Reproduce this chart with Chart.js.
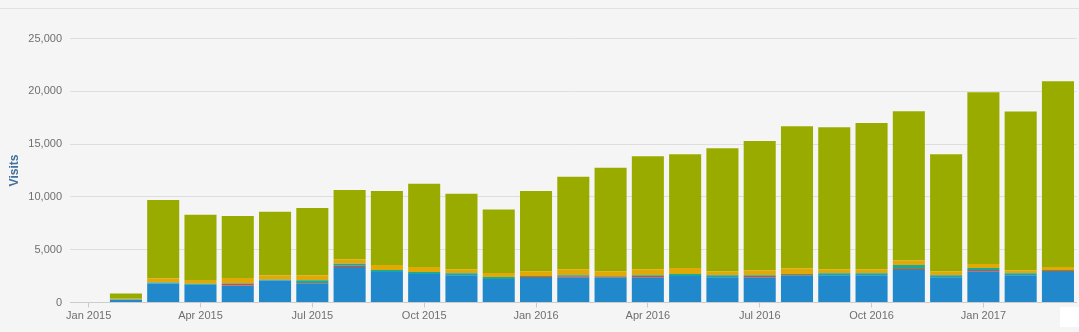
<!DOCTYPE html>
<html>
<head>
<meta charset="utf-8">
<script src="https://cdn.jsdelivr.net/npm/chart.js@4.4.1/dist/chart.umd.min.js"></script>
<style>
  html, body { margin: 0; padding: 0; background: #f5f5f5; }
  #wrap { position: relative; width: 1079px; height: 332px; overflow: hidden; }
  #topline { position: absolute; left: 0; top: 8px; width: 1079px; height: 1px; background: #e0e0e0; }
  #corner { position: absolute; left: 1060px; top: 307px; width: 19px; height: 20px; background: #ffffff; }
  canvas { position: absolute; left: 0; top: 0; }
</style>
</head>
<body>
<div id="wrap">
  <div id="topline"></div>
  <canvas id="c" width="1079" height="332"></canvas>
  <div id="corner"></div>
</div>
<script>
const categories = ['Jan 2015','Feb 2015','Mar 2015','Apr 2015','May 2015','Jun 2015','Jul 2015','Aug 2015','Sep 2015','Oct 2015','Nov 2015','Dec 2015',
  'Jan 2016','Feb 2016','Mar 2016','Apr 2016','May 2016','Jun 2016','Jul 2016','Aug 2016','Sep 2016','Oct 2016','Nov 2016','Dec 2016',
  'Jan 2017','Feb 2017','Mar 2017'];
const blueValues   = [null, 250, 1800, 1680, 1620, 2080, 1770, 3350, 2880, 2690, 2590, 2220, 2310, 2400, 2310, 2400, 2500, 2400, 2400, 2500, 2590, 2590, 3070, 2400, 2970, 2590, 2880];
const redValues    = [null, 0, 0, 0, 150, 0, 80, 120, 0, 0, 0, 0, 100, 90, 90, 100, 0, 0, 120, 90, 0, 0, 100, 0, 100, 0, 100];
const tealValues   = [null, 30, 100, 100, 60, 80, 250, 190, 190, 190, 190, 190, 90, 90, 90, 90, 190, 190, 60, 100, 190, 190, 380, 190, 190, 190, 90];
const orangeValues = [null, 80, 400, 340, 480, 430, 490, 440, 470, 470, 380, 380, 470, 580, 480, 570, 570, 380, 480, 565, 380, 380, 460, 380, 380, 280, 280];
const oliveValues  = [null, 490, 7400, 6180, 5890, 6010, 6360, 6560, 7010, 7900, 7140, 6010, 7600, 8740, 9780, 10690, 10790, 11630, 12240, 13445, 13440, 13840, 14090, 11080, 16270, 15030, 17600];
const yTicks = [0, 5000, 10000, 15000, 20000, 25000];
const yTitle = 'Visits';

const FONT = '"Liberation Sans", Arial, Helvetica, sans-serif';
function ds(data, color) {
  return { data: data, backgroundColor: color, borderWidth: 0, barPercentage: 0.86, categoryPercentage: 1.0 };
}

new Chart(document.getElementById('c'), {
  type: 'bar',
  data: {
    labels: categories,
    datasets: [
      ds(blueValues, '#2288cc'),
      ds(redValues, '#de4a2c'),
      ds(tealValues, '#1ca89a'),
      ds(orangeValues, '#e1a906'),
      ds(oliveValues, '#9aab00')
    ]
  },
  options: {
    responsive: false,
    devicePixelRatio: 1,
    animation: false,
    layout: { padding: { top: 38.5, right: 2.4, left: 0, bottom: 0 } },
    plugins: { legend: { display: false }, tooltip: { enabled: false } },
    scales: {
      x: {
        stacked: true,
        offset: true,
        afterFit: function (s) { s.height = 29.5; },
        grid: {
          offset: false,
          drawOnChartArea: false,
          drawTicks: true,
          tickLength: 5,
          tickColor: function (ctx) { return ctx.index % 3 === 0 ? '#b9cde4' : 'rgba(0,0,0,0)'; }
        },
        border: { display: true, color: '#cccccc', width: 1 },
        ticks: {
          autoSkip: false,
          maxRotation: 0,
          minRotation: 0,
          padding: 2,
          color: '#6f6f6f',
          font: { family: FONT, size: 11 },
          callback: function (v, i) { return i % 3 === 0 ? categories[i] : ''; }
        }
      },
      y: {
        stacked: true,
        min: 0,
        max: 25000,
        afterFit: function (s) { s.width = 70; },
        afterBuildTicks: function (s) { s.ticks = yTicks.map(function (v) { return { value: v }; }); },
        grid: { color: '#dedede', drawTicks: false, lineWidth: 1 },
        border: { display: false },
        ticks: {
          padding: 8,
          color: '#6f6f6f',
          font: { family: FONT, size: 11 },
          callback: function (v) { return v.toLocaleString('en-US'); }
        },
        title: {
          display: true,
          text: yTitle,
          color: '#41709f',
          font: { family: FONT, size: 12, weight: 'bold' },
          padding: { top: 7, bottom: 0 }
        }
      }
    }
  }
});
</script>
</body>
</html>
